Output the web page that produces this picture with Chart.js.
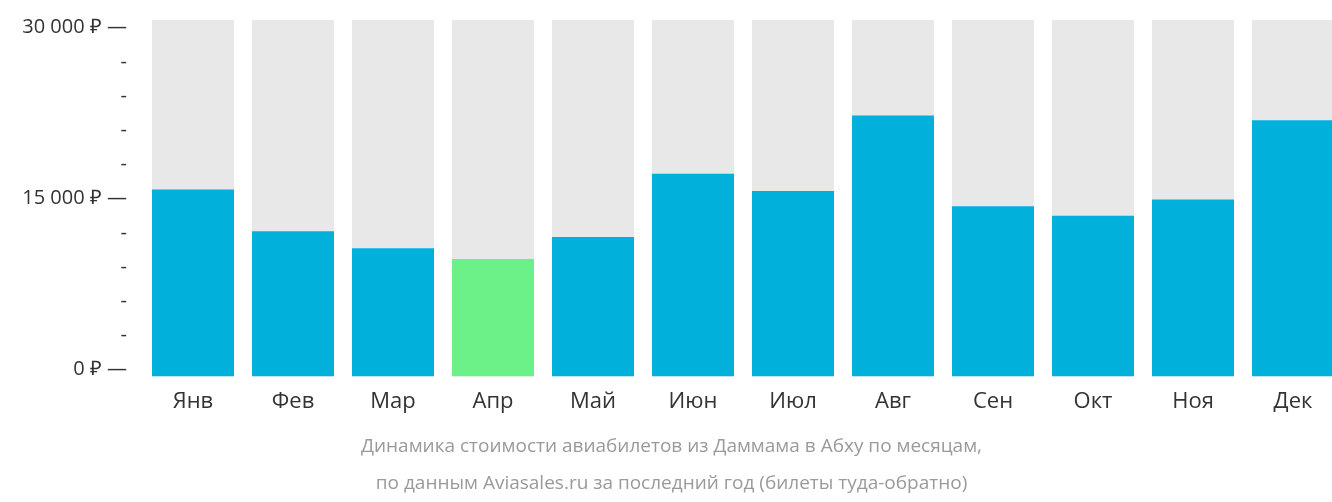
<!DOCTYPE html>
<html><head><meta charset="utf-8">
<script src="https://cdn.jsdelivr.net/npm/chart.js@4"></script>
<style>html,body{margin:0;padding:0;overflow:hidden;background:#fff}#w{width:1343px;height:502px}</style>
</head><body><div id="w"><canvas id="c"></canvas></div>
<script>
const months=["Янв","Фев","Мар","Апр","Май","Июн","Июл","Авг","Сен","Окт","Ноя","Дек"];
const prices=[15800,12150,10650,9720,11650,17180,15670,22300,14330,13500,14920,21880];
const cheapestIndex=3;
const yMin=-590, yMax=30670;
const majorTicks=[0,15000,30000];
const titleLines=["Динамика стоимости авиабилетов из Даммама в Абху по месяцам,","по данным Aviasales.ru за последний год (билеты туда-обратно)"];
const fmt=v=>String(v).replace(/\B(?=(\d{3})+(?!\d))/g," ")+" ₽ —";
new Chart(document.getElementById('c'),{
 type:'bar',
 data:{labels:months,datasets:[
  {data:prices.map(v=>[yMin,v]),backgroundColor:prices.map((v,i)=>i===cheapestIndex?'#6cf088':'#02b0dc'),grouped:false,order:1,barPercentage:0.82,categoryPercentage:1},
  {data:prices.map(()=>[yMin,yMax]),backgroundColor:'#e8e8e8',grouped:false,order:2,barPercentage:0.82,categoryPercentage:1}
 ]},
 options:{responsive:true,maintainAspectRatio:false,animation:false,
  layout:{padding:{left:0,right:0,top:-20,bottom:0}},
  plugins:{legend:{display:false},tooltip:{enabled:false},
   title:{display:true,position:'bottom',text:titleLines,color:'#9a9a9a',font:{family:'Open Sans',size:19,weight:'normal',lineHeight:1.95},padding:{top:9,bottom:0}}},
  scales:{
   x:{grid:{display:false},border:{display:false},ticks:{color:'#333',font:{family:'Open Sans',size:22},padding:4}},
   y:{min:yMin,max:yMax,afterFit:a=>{a.width=143;},afterBuildTicks:a=>{const t=[];for(let v=0;v<=30000;v+=3000)t.push({value:v});a.ticks=t;},
    grid:{display:false},border:{display:false},
    ticks:{autoSkip:false,color:'#333',font:{family:'Open Sans',size:20},padding:8,
     callback:v=>majorTicks.includes(v)?fmt(v):'-'}}
  }}
});
</script></body></html>
